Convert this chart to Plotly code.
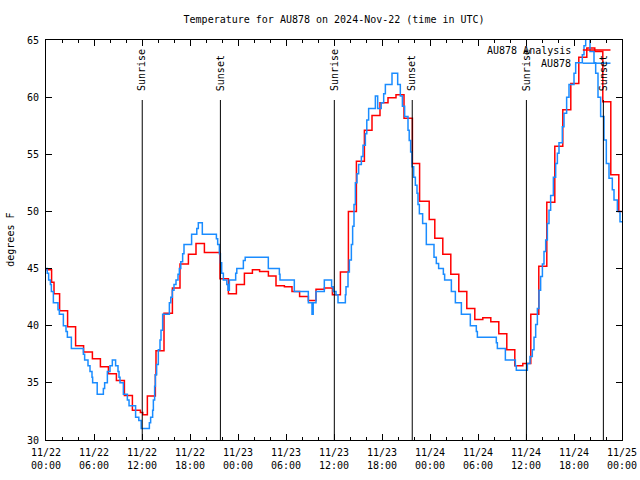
import plotly.graph_objects as go

# Hours since 2024-11-22 00:00 UTC
analysis_hours = [0, 0.7, 1.0, 1.7, 2.7, 3.7, 4.7, 5.8, 6.8, 7.8, 8.8, 9.8, 10.8, 11.8, 12.1,
                  12.67, 13.67, 13.75, 14.75, 15.8, 16.75, 17.8, 18.75, 19.8, 21.75, 22.8, 23.8,
                  24.1, 24.8, 25.8, 26.7, 27.8, 28.75, 29.8, 30.75, 31.7, 32.8, 33.75, 34.8, 35.8,
                  36.8, 37.8, 38.8, 39.8, 40.75, 41.75, 42.75, 43.75, 44.75, 45.8, 46.7, 47.9,
                  48.6, 49.6, 50.6, 51.6, 52.6, 53.6, 54.6, 55.6, 56.6, 57.6, 58.6, 59.6,
                  60.6, 61.6, 62.6, 63.6, 64.6, 65.6, 66.6, 67.6, 68.6, 69.6, 70.6, 71.6, 72.0]
analysis_temp = [44.9, 43.8, 42.8, 41.3, 39.9, 38.25, 37.7, 37.1, 36.4, 35.8, 35.2, 33.9, 32.6, 32.4, 32.2,
                 33.85, 35.7, 37.8, 41.1, 43.3, 45.4, 46.25, 47.2, 46.4, 44.1, 42.8, 43.6,
                 43.6, 44.6, 44.9, 44.75, 44.35, 43.5, 43.4, 43.0, 42.55, 42.2, 43.2, 43.3, 42.7,
                 44.7, 50.0, 54.4, 57.1, 58.4, 59.5, 59.95, 60.2, 58.15, 54.2, 50.9, 49.3,
                 47.65, 46.25, 44.5, 43.0, 41.5, 40.55, 40.7, 40.35, 39.3, 37.9, 36.5, 36.7,
                 41.0, 45.2, 50.8, 55.7, 58.9, 61.2, 63.5, 64.3, 64.0, 59.6, 53.2, 50.0, 50.0]

station_hours = [0, 0.15, 0.33, 0.55, 0.67, 0.92, 1.5, 1.67, 2.17, 2.5, 2.67, 3.17, 4.67, 4.83,
                 5.25, 5.5, 5.75, 5.83, 6.4, 7.17, 7.33, 7.67, 8.0, 8.29, 8.7, 9.0, 9.125, 9.25,
                 9.67, 10.17, 10.38, 11.2, 11.6, 11.9, 12.92, 13.08, 13.33, 13.42, 13.58, 13.67,
                 13.83, 14.04, 14.25, 14.375, 14.58, 15.42, 15.6, 15.79, 16.0, 16.25, 16.5, 16.67,
                 16.85, 17.08, 17.25, 18.2, 18.85, 19.04, 19.54, 21.3, 21.46, 21.67, 21.8, 21.96,
                 22.17, 22.6, 22.75, 22.92, 23.71, 23.85, 24.67, 24.9, 27.79, 29.17, 29.25, 31.04,
                 32.79, 33.25, 33.4, 33.75, 34.79, 35.7, 35.9, 36.25, 36.5, 37.42, 37.5, 37.75,
                 37.92, 38.17, 38.33, 38.5, 38.67, 38.875, 39.08, 39.42, 39.625, 39.92, 40.1, 40.33,
                 41.17, 41.46, 41.9, 42.21, 42.42, 43.25, 43.96, 44.29, 44.55, 44.83, 45.25, 45.4,
                 45.58, 45.75, 45.96, 46.17, 46.375, 46.5, 46.67, 47.08, 47.54, 48.5, 48.79, 49.08,
                 49.67, 49.83, 50.67, 51.17, 51.92, 53.04, 53.79, 53.92, 56.29, 56.42, 57.42, 58.67,
                 58.79, 60.17, 60.5, 60.79, 61.0, 61.21, 61.42, 61.625, 61.83, 62.05, 62.25, 62.46,
                 62.67, 62.875, 63.08, 63.42, 63.71, 63.92, 64.125, 64.54, 64.75, 65.08, 65.375, 66.0,
                 66.21, 67.04, 67.25, 67.46, 68.0, 68.5, 68.71, 69.0, 69.33, 69.75, 70.04, 70.375,
                 70.79, 71.0, 71.42, 71.75, 72.0]
station_temp = [45.0, 44.6, 44.0, 43.6, 43.0, 42.0, 41.4, 41.0, 40.0, 39.5, 39.0, 38.0, 37.5, 37.0,
                36.5, 36.0, 35.5, 35.0, 34.0, 34.5, 35.0, 36.0, 36.5, 37.0, 36.5, 36.0, 35.5, 35.0,
                34.0, 33.5, 33.0, 32.0, 31.7, 31.0, 31.5, 32.0, 32.6, 33.5, 34.7, 35.7,
                36.6, 37.9, 38.75, 39.6, 41.0, 42.0, 42.5, 43.1, 43.6, 44.0, 44.5, 45.0,
                45.6, 46.3, 47.1, 48.0, 48.5, 49.0, 48.0, 47.6, 47.1, 46.3, 45.5, 44.6,
                44.0, 43.6, 43.1, 44.0, 44.6, 45.0, 45.7, 46.0, 45.0, 44.5, 44.0, 43.0,
                42.0, 41.0, 42.0, 43.0, 44.0, 43.4, 43.0, 42.7, 42.0, 42.7, 43.4, 44.7,
                45.75, 47.1, 48.7, 50.6, 52.5, 53.3, 54.1, 54.8, 55.8, 56.8, 58.0, 59.0,
                60.1, 59.0, 59.5, 60.3, 61.1, 62.1, 61.1, 60.1, 59.2, 58.3, 57.1, 56.2,
                55.2, 53.9, 53.0, 52.3, 51.6, 50.6, 49.8, 48.95, 47.1, 46.0, 45.45, 45.0,
                44.5, 44.0, 43.0, 42.0, 41.0, 40.0, 39.5, 39.0, 38.5, 38.0, 37.0, 36.5,
                36.1, 36.7, 37.3, 37.9, 39.0, 40.1, 41.5, 43.1, 44.3, 45.4, 46.5, 47.5,
                48.95, 50.1, 51.4, 53.0, 54.2, 55.1, 56.0, 57.4, 58.6, 60.0, 61.1, 62.1,
                63.0, 63.7, 64.5, 66.0, 64.0, 63.0, 62.1, 60.0, 58.3, 56.25, 54.2, 52.9,
                51.9, 51.0, 50.0, 49.1, 49.1]

sunrise_hours = [12.03, 36.04, 60.05]
sunset_hours = [21.8, 45.78, 69.67]

tick_hours = [0, 6, 12, 18, 24, 30, 36, 42, 48, 54, 60, 66, 72]
tick_dates = ["11/22", "11/22", "11/22", "11/22", "11/23", "11/23", "11/23", "11/23",
              "11/24", "11/24", "11/24", "11/24", "11/25"]
tick_times = ["00:00", "06:00", "12:00", "18:00", "00:00", "06:00", "12:00", "18:00",
              "00:00", "06:00", "12:00", "18:00", "00:00"]

FONT = "DejaVu Sans Mono"
RED = "#ff0000"
BLUE = "#1a8cff"

fig = go.Figure()
fig.add_trace(go.Scatter(x=analysis_hours, y=analysis_temp, mode="lines",
                         line=dict(color=RED, width=1.5, shape="hv"),
                         name="AU878 Analysis", showlegend=False))
fig.add_trace(go.Scatter(x=station_hours, y=station_temp, mode="lines",
                         line=dict(color=BLUE, width=1.5, shape="hv"),
                         name="AU878", showlegend=False))

shapes = []
annotations = []
for label, hours in (("Sunrise", sunrise_hours), ("Sunset", sunset_hours)):
    for h in hours:
        shapes.append(dict(type="line", xref="x", yref="paper", x0=h, x1=h, y0=0, y1=0.85,
                           line=dict(color="black", width=1)))
        annotations.append(dict(text=label, xref="x", yref="paper", x=h, y=0.868,
                                xanchor="center", yanchor="bottom", textangle=-90,
                                showarrow=False, font=dict(family=FONT, size=10, color="black")))

# gnuplot-style key (text left of sample line)
legend_items = [("AU878 Analysis", RED), ("AU878", BLUE)]
for i, (name, col) in enumerate(legend_items):
    ypos = 0.975 - i * 0.033
    annotations.append(dict(text=name, xref="paper", yref="paper", x=0.915, y=ypos,
                            xanchor="right", yanchor="middle", showarrow=False,
                            font=dict(family=FONT, size=10, color="black")))
    shapes.append(dict(type="line", xref="paper", yref="paper", x0=0.932, x1=0.98,
                       y0=ypos, y1=ypos, line=dict(color=col, width=1.5), layer="above"))

annotations.append(dict(text="degrees F", xref="paper", yref="paper", x=-0.063, y=0.5,
                        xanchor="center", yanchor="middle", textangle=-90, showarrow=False,
                        font=dict(family=FONT, size=10, color="black")))

fig.update_layout(
    width=640, height=480,
    margin=dict(l=46, r=18, t=40, b=40, autoexpand=False),
    paper_bgcolor="white", plot_bgcolor="white",
    title=dict(text="Temperature for AU878 on 2024-Nov-22 (time in UTC)",
               x=0.522, xanchor="center", y=0.96, yanchor="middle",
               font=dict(family=FONT, size=10, color="black")),
    shapes=shapes, annotations=annotations,
    showlegend=False,
    font=dict(family=FONT, size=10, color="black"),
)
fig.update_xaxes(range=[0, 72], tickvals=tick_hours,
                 ticktext=[d + "<br>" + t for d, t in zip(tick_dates, tick_times)],
                 ticks="inside", ticklen=6, tickcolor="black", showgrid=False, zeroline=False,
                 showline=True, linecolor="black", linewidth=1, mirror="allticks",
                 ticklabelstandoff=3,
                 minor=dict(dtick=2, tick0=0, ticks="inside", ticklen=3, tickcolor="black", showgrid=False),
                 tickfont=dict(family=FONT, size=10, color="black"))
fig.update_yaxes(range=[30, 65], dtick=5, tick0=30,
                 ticks="inside", ticklen=6, tickcolor="black", showgrid=False, zeroline=False,
                 showline=True, linecolor="black", linewidth=1, mirror="allticks",
                 ticklabelstandoff=4,
                 tickfont=dict(family=FONT, size=10, color="black"))

fig.write_html("out.html", config={"displayModeBar": False},
               post_script="document.body.style.margin='0px';document.body.style.padding='0px';")
